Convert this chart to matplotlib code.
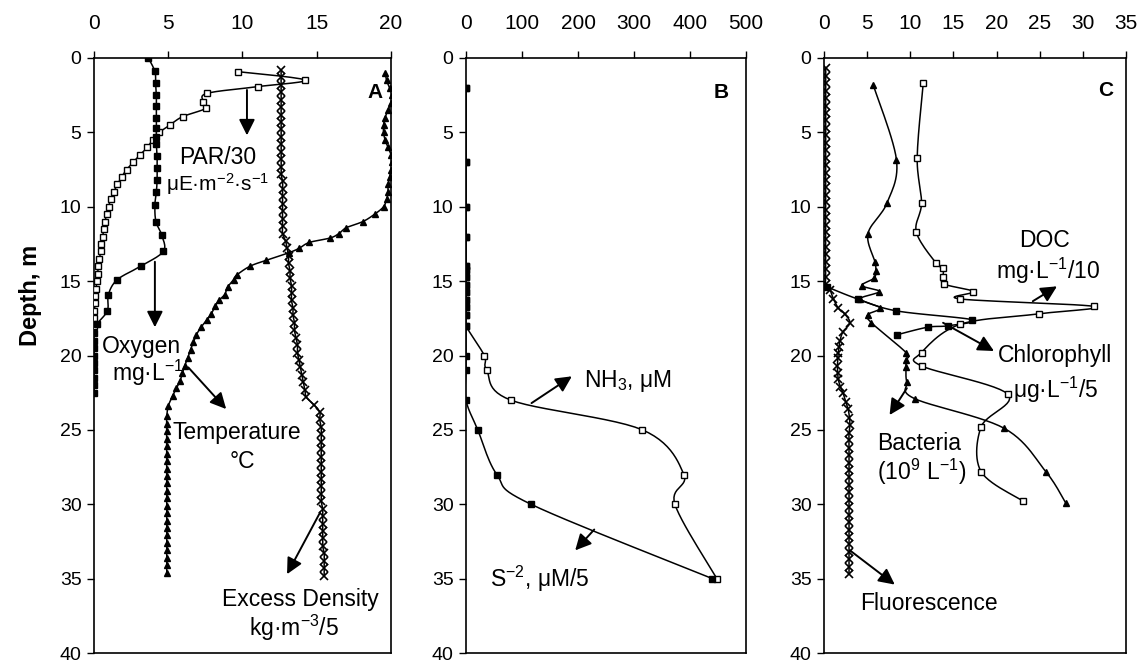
import numpy as np
import matplotlib
matplotlib.use("Agg")
import matplotlib.pyplot as plt
from matplotlib import font_manager

plt.rcParams['font.family'] = ['Liberation Sans', 'DejaVu Sans']
plt.rcParams['mathtext.fontset'] = 'custom'
plt.rcParams['mathtext.rm'] = 'Liberation Sans'
plt.rcParams['mathtext.it'] = 'Liberation Sans:italic'
plt.rcParams['mathtext.bf'] = 'Liberation Sans:bold'
names = {f.name for f in font_manager.fontManager.ttflist}
TICKFONT = 'Liberation Sans Narrow' if 'Liberation Sans Narrow' in names else 'Liberation Sans'

# ---------------- Panel A data ----------------
oxy_depth = [0.0, 0.9, 1.7, 2.5, 3.2, 4.0, 4.7, 5.3, 5.8, 6.6, 7.4, 8.2, 9.0, 9.9, 11.0, 11.9,
             13.0, 14.0, 14.9, 15.9, 17.0, 17.9, 18.5, 19.0, 19.5, 20.0, 20.5, 21.0, 21.5, 22.0, 22.5]
oxy_vals = [3.66, 4.1, 4.15, 4.2, 4.2, 4.2, 4.2, 4.2, 4.2, 4.25, 4.25, 4.25, 4.2, 4.1, 4.17, 4.56,
            4.67, 3.14, 1.57, 0.97, 0.9, 0.18, 0.0, 0.0, 0.0, 0.0, 0.0, 0.0, 0.0, 0.0, 0.0]

par_depth = [0.92, 1.48, 1.92, 2.37, 2.93, 3.38, 3.94, 4.5, 5.0, 5.5, 6.0, 6.5, 7.0, 7.5, 8.0, 8.5,
             9.0, 9.5, 10.0, 10.5, 11.0, 11.5, 12.0, 12.5, 13.0, 13.5, 14.0, 14.5, 15.0, 15.5,
             16.0, 16.5, 17.0, 17.5, 18.0]
par_vals = [9.72, 14.2, 11.07, 7.63, 7.36, 7.54, 5.97, 5.12, 4.4, 3.95, 3.6, 3.1, 2.65, 2.2, 1.86, 1.58,
            1.33, 1.12, 0.98, 0.85, 0.74, 0.66, 0.58, 0.5, 0.44, 0.37, 0.3, 0.24, 0.19, 0.14,
            0.09, 0.06, 0.03, 0.01, 0.0]

temp_depth = [1.0, 1.5, 2.0, 2.5, 3.0, 3.5, 4.0, 4.5, 5.0, 5.5, 6.0, 6.5, 7.0, 7.5, 8.0, 8.5, 9.0,
              9.5, 10.0, 10.5, 11.0, 11.4, 11.8, 12.1, 12.4, 12.8, 13.1, 13.6, 14.0, 14.6, 14.9,
              15.4, 15.9, 16.3, 16.7, 17.2, 17.6, 18.1, 18.6, 19.1, 19.6, 20.2, 20.7, 21.2, 21.7,
              22.2, 22.7, 23.4, 24.1, 24.6, 25.1, 25.6, 26.1, 26.6, 27.1, 27.6, 28.1, 28.6, 29.1,
              29.6, 30.1, 30.6, 31.1, 31.6, 32.1, 32.6, 33.1, 33.6, 34.1, 34.6]
temp_vals = [19.6, 19.7, 19.9, 20.1, 20.0, 19.8, 19.6, 19.5, 19.5, 19.6, 19.8, 20.0, 20.1, 20.0,
             19.9, 19.8, 19.8, 19.7, 19.5, 18.9, 18.1, 17.0, 16.5, 15.9, 14.5, 13.8, 13.1, 11.6,
             10.5, 9.6, 9.4, 9.0, 8.8, 8.4, 8.15, 7.9, 7.6, 7.2, 6.9, 6.7, 6.5, 6.3, 6.1, 5.95,
             5.8, 5.55, 5.3, 5.0, 4.9, 4.9, 4.9, 4.9, 4.9, 4.9, 4.9, 4.9, 4.9, 4.9, 4.9, 4.9,
             4.9, 4.9, 4.9, 4.9, 4.9, 4.9, 4.9, 4.9, 4.9, 4.9]

dens_depth = [0.8, 1.3, 1.8, 2.3, 2.8, 3.3, 3.8, 4.3, 4.8, 5.3, 5.8, 6.3, 6.8, 7.3, 7.8, 8.3, 8.8,
              9.3, 9.8, 10.3, 10.8, 11.3, 11.8, 12.3, 12.8, 13.3, 13.8, 14.3, 14.8, 15.3, 15.8,
              16.3, 16.8, 17.3, 17.8, 18.3, 18.8, 19.3, 19.8, 20.3, 20.8, 21.3, 21.8, 22.3, 22.8,
              23.3, 23.8, 24.3, 24.8, 25.3, 25.8, 26.3, 26.8, 27.3, 27.8, 28.3, 28.8, 29.3, 29.8,
              30.3, 30.8, 31.3, 31.8, 32.3, 32.8, 33.3, 33.8, 34.3, 34.8]
dens_vals = [12.6, 12.6, 12.6, 12.6, 12.6, 12.6, 12.6, 12.6, 12.6, 12.6, 12.6, 12.6, 12.6, 12.6,
             12.6, 12.7, 12.7, 12.7, 12.7, 12.7, 12.7, 12.7, 12.7, 12.9, 13.0, 13.1, 13.1, 13.2,
             13.2, 13.3, 13.3, 13.3, 13.4, 13.4, 13.5, 13.5, 13.6, 13.7, 13.7, 13.8, 13.9, 14.0,
             14.1, 14.2, 14.3, 14.8, 15.2, 15.2, 15.3, 15.3, 15.3, 15.3, 15.3, 15.3, 15.3, 15.3,
             15.3, 15.3, 15.3, 15.4, 15.4, 15.4, 15.4, 15.4, 15.4, 15.5, 15.5, 15.5, 15.5]

# ---------------- Panel B data ----------------
b_depth = [2.0, 7.0, 10.0, 12.0, 14.0, 14.25, 14.75, 15.25, 15.75, 16.25, 16.75, 17.25, 18.0,
           20.0, 21.0, 23.0, 25.0, 28.0, 30.0, 35.0]
nh3_vals = [0, 0, 0, 0, 0, 0, 0, 0, 0, 0, 0, 0, 0, 32.7, 37, 80, 315, 389, 373, 448]
s_vals = [0, 0, 0, 0, 0, 0, 0, 0, 0, 0, 0, 0, 0, 0, 0, 0, 21, 55, 116, 440]

# ---------------- Panel C data ----------------
doc_depth = [1.7, 6.7, 9.75, 11.7, 13.8, 14.1, 14.7, 15.2, 15.7, 16.2, 16.7, 17.2, 17.9, 19.8,
             20.7, 22.6, 24.8, 27.8, 29.8]
doc_vals = [11.5, 10.8, 11.3, 10.7, 13.0, 13.8, 13.8, 13.9, 17.3, 15.8, 31.3, 24.9, 15.8, 11.3,
            11.3, 21.3, 18.2, 18.2, 23.1]

chl_depth = [15.4, 16.2, 17.0, 17.6, 18.0, 18.1, 18.6]
chl_vals = [0.4, 3.9, 8.4, 17.2, 14.4, 12.0, 8.5]

bac_depth = [1.8, 6.85, 9.75, 11.8, 13.7, 14.3, 14.8, 15.3, 15.7, 16.2, 16.8, 17.25, 17.8, 19.8,
             20.3, 20.8, 21.8, 22.9, 24.9, 27.8, 29.9]
bac_vals = [5.7, 8.4, 7.3, 5.1, 5.9, 6.0, 5.8, 4.4, 6.4, 4.2, 6.5, 5.1, 5.5, 9.5, 9.5, 9.5, 9.6,
            10.5, 20.9, 25.7, 28.0]

flu_depth = [0.7, 1.2, 1.7, 2.2, 2.7, 3.2, 3.7, 4.2, 4.7, 5.2, 5.7, 6.2, 6.7, 7.2, 7.7, 8.2, 8.7,
             9.2, 9.7, 10.2, 10.7, 11.2, 11.7, 12.2, 12.7, 13.2, 13.7, 14.2, 14.7, 15.2,
             15.6, 16.2, 16.8, 17.2, 17.8, 18.4, 19.0, 19.4, 19.8, 20.2, 20.7, 21.2, 21.6, 22.1,
             22.5, 23.1, 23.6, 24.2, 24.7, 25.2, 25.7, 26.2, 26.7, 27.2, 27.7, 28.2, 28.7, 29.2,
             29.7, 30.2, 30.7, 31.2, 31.7, 32.2, 32.7, 33.2, 33.7, 34.2, 34.7]
flu_vals = [0.2, 0.2, 0.2, 0.2, 0.2, 0.2, 0.2, 0.2, 0.2, 0.2, 0.2, 0.2, 0.2, 0.2, 0.2, 0.2, 0.2,
            0.2, 0.2, 0.2, 0.2, 0.2, 0.2, 0.2, 0.2, 0.2, 0.2, 0.2, 0.2, 0.2,
            0.7, 1.1, 1.65, 2.4, 3.0, 2.2, 1.85, 1.75, 1.65, 1.6, 1.55, 1.6, 1.65, 1.9,
            2.2, 2.5, 2.8, 2.95, 3.0, 2.9, 2.9, 2.9, 2.9, 2.9, 2.9, 2.9, 2.9, 2.9,
            2.9, 2.9, 2.9, 2.9, 2.9, 2.9, 2.9, 2.9, 2.9, 2.9, 2.9]

a_ticks = [0, 5, 10, 15, 20]
b_ticks = [0, 100, 200, 300, 400, 500]
c_ticks = [0, 5, 10, 15, 20, 25, 30, 35]
depth_ticks = [0, 5, 10, 15, 20, 25, 30, 35, 40]

# ---------------- figure ----------------
W, H = 1141, 662
fig = plt.figure(figsize=(W / 100, H / 100), dpi=100)
bot = (H - 653) / H
hgt = 595 / H
axA = fig.add_axes([94 / W, bot, 297 / W, hgt])
axB = fig.add_axes([466 / W, bot, 280 / W, hgt])
axC = fig.add_axes([824 / W, bot, 302 / W, hgt])


def setup(ax, xmax, xt):
    ax.set_xlim(0, xmax)
    ax.set_ylim(40, 0)
    ax.xaxis.tick_top()
    ax.set_xticks(xt)
    ax.set_yticks(depth_ticks)
    ax.tick_params(axis='x', direction='out', length=5, width=1, pad=13, labelsize=15)
    ax.tick_params(axis='y', direction='out', length=5, width=1, pad=4, labelsize=14)
    for lab in ax.get_xticklabels() + ax.get_yticklabels():
        lab.set_fontfamily(TICKFONT)
    for s in ax.spines.values():
        s.set_linewidth(1.2)


def smooth(ax, xs, ys, steps=14):
    pts = ax.transData.transform(np.column_stack([xs, ys]).astype(float))
    n = len(pts)
    out = [pts[0]]
    t = np.linspace(0, 1, steps)[1:, None]
    for i in range(n - 1):
        p0 = pts[i - 1] if i > 0 else pts[i]
        p1, p2 = pts[i], pts[i + 1]
        p3 = pts[i + 2] if i + 2 < n else pts[i + 1]
        c1 = p1 + (p2 - p0) / 6.0
        c2 = p2 - (p3 - p1) / 6.0
        seg = (1 - t) ** 3 * p1 + 3 * (1 - t) ** 2 * t * c1 + 3 * (1 - t) * t ** 2 * c2 + t ** 3 * p2
        out.extend(seg)
    d = ax.transData.inverted().transform(np.array(out))
    return d[:, 0], d[:, 1]


def series(ax, xs, ys, marker, ms, mfc='k', mew=1.0, lw=1.1):
    sx, sy = smooth(ax, xs, ys)
    ax.plot(sx, sy, color='k', lw=lw, zorder=2)
    ax.plot(xs, ys, ls='none', marker=marker, ms=ms, mfc=mfc, mec='k', mew=mew, zorder=3)


def arrow(ax, tail, head):
    ax.annotate('', xy=head, xytext=tail,
                arrowprops=dict(arrowstyle='-|>', mutation_scale=24, lw=1.4, color='k',
                                shrinkA=0, shrinkB=0), zorder=5)


TXT = 16.5

# Panel A
setup(axA, 20, a_ticks)
series(axA, dens_vals, dens_depth, 'x', 5.5, mew=1.2)
series(axA, temp_vals, temp_depth, '^', 5)
series(axA, par_vals, par_depth, 's', 4, mfc='white')
series(axA, oxy_vals, oxy_depth, 's', 4)
arrow(axA, (10.3, 2.15), (10.3, 5.2))
axA.text(8.3, 6.7, 'PAR/30', ha='center', va='center', fontsize=TXT)
axA.text(8.3, 8.5, 'μE·m$^{-2}$·s$^{-1}$', ha='center', va='center', fontsize=15)
arrow(axA, (4.1, 13.7), (4.1, 18.1))
axA.text(3.2, 19.4, 'Oxygen', ha='center', va='center', fontsize=TXT)
axA.text(3.6, 21.2, 'mg·L$^{-1}$', ha='center', va='center', fontsize=TXT)
arrow(axA, (6.35, 20.8), (8.9, 23.6))
axA.text(9.6, 25.2, 'Temperature', ha='center', va='center', fontsize=TXT)
axA.text(10.0, 27.1, '°C', ha='center', va='center', fontsize=TXT)
arrow(axA, (15.2, 30.6), (13.0, 34.7))
axA.text(13.9, 36.4, 'Excess Density', ha='center', va='center', fontsize=TXT)
axA.text(13.5, 38.3, 'kg·m$^{-3}$/5', ha='center', va='center', fontsize=TXT)
axA.text(18.9, 2.3, 'A', ha='center', va='center', fontsize=15, fontweight='bold')

# Panel B
setup(axB, 500, b_ticks)
series(axB, nh3_vals, b_depth, 's', 4, mfc='white')
series(axB, s_vals, b_depth, 's', 4)
arrow(axB, (117, 23.2), (189, 21.4))
axB.text(210, 21.7, 'NH$_3$, μM', ha='left', va='center', fontsize=TXT)
arrow(axB, (229, 31.7), (195, 33.1))
axB.text(43, 35.0, 'S$^{-2}$, μM/5', ha='left', va='center', fontsize=TXT)
axB.text(456, 2.3, 'B', ha='center', va='center', fontsize=15, fontweight='bold')

# Panel C
setup(axC, 35, c_ticks)
series(axC, flu_vals, flu_depth, 'x', 5.5, mew=1.2)
series(axC, bac_vals, bac_depth, '^', 5)
series(axC, doc_vals, doc_depth, 's', 4, mfc='white')
series(axC, chl_vals, chl_depth, 's', 4)
axC.text(25.6, 12.3, 'DOC', ha='center', va='center', fontsize=TXT)
axC.text(26.0, 14.3, 'mg·L$^{-1}$/10', ha='center', va='center', fontsize=TXT)
arrow(axC, (24.2, 16.35), (27.0, 15.35))
arrow(axC, (13.8, 17.8), (19.7, 19.7))
axC.text(26.8, 20.0, 'Chlorophyll', ha='center', va='center', fontsize=TXT)
axC.text(26.8, 22.3, 'μg·L$^{-1}$/5', ha='center', va='center', fontsize=TXT)
arrow(axC, (9.6, 22.2), (7.6, 24.0))
axC.text(11.0, 25.9, 'Bacteria', ha='center', va='center', fontsize=TXT)
axC.text(11.3, 27.8, '(10$^9$ L$^{-1}$)', ha='center', va='center', fontsize=TXT)
arrow(axC, (3.0, 33.1), (8.2, 35.4))
axC.text(12.2, 36.7, 'Fluorescence', ha='center', va='center', fontsize=TXT)
axC.text(32.6, 2.2, 'C', ha='center', va='center', fontsize=15, fontweight='bold')

fig.text(30 / W, 1 - 295 / H, 'Depth, m', rotation=90, ha='center', va='center',
         fontsize=17, fontweight='bold')

fig.savefig('out.png', dpi=100)
